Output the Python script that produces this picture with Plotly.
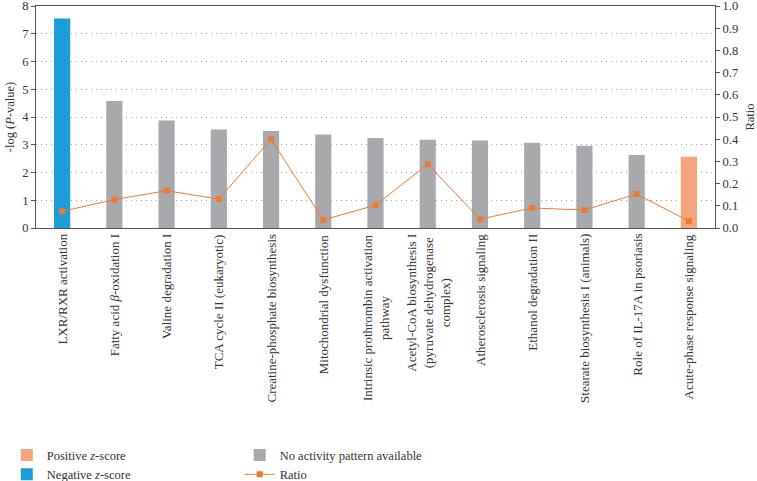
import plotly.graph_objects as go

categories = [
    "LXR/RXR activation",
    "Fatty acid <i>β</i>-oxidation I",
    "Valine degradation I",
    "TCA cycle II (eukaryotic)",
    "Creatine-phosphate biosynthesis",
    "Mitochondrial dysfunction",
    "Intrinsic prothrombin activation<br>pathway",
    "Acetyl-CoA biosynthesis I<br>(pyruvate dehydrogenase<br>complex)",
    "Atherosclerosis signaling",
    "Ethanol degradation II",
    "Stearate biosynthesis I (animals)",
    "Role of IL-17A in psoriasis",
    "Acute-phase response signaling",
]
neg_log_p = [7.55, 4.58, 3.87, 3.55, 3.50, 3.37, 3.24, 3.18, 3.15, 3.07, 2.96, 2.63, 2.57]
ratio = [0.075, 0.128, 0.168, 0.130, 0.400, 0.036, 0.103, 0.287, 0.040, 0.090, 0.081, 0.153, 0.031]
pattern = ["neg", "none", "none", "none", "none", "none", "none", "none", "none", "none", "none", "none", "pos"]

left_ticks = [0, 1, 2, 3, 4, 5, 6, 7, 8]
right_ticks = [0.0, 0.1, 0.2, 0.3, 0.4, 0.5, 0.6, 0.7, 0.8, 0.9, 1.0]

C_POS = "#F5A47C"
C_NEG = "#1B9DD8"
C_NONE = "#A8A9AD"
C_RATIO = "#EE7A30"

FONT = "Liberation Serif"
TXT = "#333333"


def subset(key):
    xs = [c for c, p in zip(categories, pattern) if p == key]
    ys = [v for v, p in zip(neg_log_p, pattern) if p == key]
    return xs, ys


fig = go.Figure()
for key, name, col, leg in [
    ("pos", "Positive <i>z</i>-score", C_POS, "legend"),
    ("neg", "Negative <i>z</i>-score", C_NEG, "legend"),
    ("none", "No activity pattern available", C_NONE, "legend2"),
]:
    xs, ys = subset(key)
    fig.add_trace(go.Bar(x=xs, y=ys, name=name, marker=dict(color=col, line=dict(width=0)),
                         width=0.31, yaxis="y", legend=leg))

fig.add_trace(go.Scatter(x=categories, y=ratio, name="Ratio", mode="lines+markers",
                         line=dict(color=C_RATIO, width=1),
                         marker=dict(symbol="square", size=6, color=C_RATIO),
                         yaxis="y2", legend="legend2"))

# category labels: rotated, with centred multi-line wrapping
for c in categories:
    fig.add_annotation(x=c, xref="x", y=0, yref="paper", text=c, textangle=-90,
                       xanchor="center", yanchor="top", align="center", showarrow=False,
                       yshift=-4, font=dict(family=FONT, size=13, color=TXT))

axis_col = "#555555"
leg_common = dict(orientation="v", yanchor="top", xanchor="left", traceorder="normal",
                  font=dict(family=FONT, size=12.5, color=TXT), tracegroupgap=0,
                  bgcolor="rgba(0,0,0,0)")
fig.update_layout(
    width=757, height=481,
    margin=dict(l=36, r=42, t=6, b=253, autoexpand=False),
    paper_bgcolor="white", plot_bgcolor="white",
    barmode="overlay",
    font=dict(family=FONT, size=12.5, color=TXT),
    xaxis=dict(type="category", categoryorder="array", categoryarray=categories,
               showticklabels=False, showline=True, linecolor=axis_col, linewidth=1,
               mirror=True, ticks="", range=[-0.5, 12.5], automargin=False),
    yaxis=dict(range=[0, 8], tickvals=left_ticks, showline=True, linecolor=axis_col,
               linewidth=1, ticks="outside", ticklen=4, tickcolor=axis_col,
               showgrid=True, gridcolor="#a0a0a0", griddash="1px,4px", gridwidth=1,
               zeroline=False, automargin=False, ticklabeloverflow="allow",
               title=dict(text="-log (<i>P</i>-value)", standoff=4,
                          font=dict(family=FONT, size=12.5, color=TXT)),
               tickfont=dict(family=FONT, size=12.5, color=TXT)),
    yaxis2=dict(range=[0, 1.0], tickvals=right_ticks, tickformat=".1f", overlaying="y",
                side="right", showline=True, linecolor=axis_col, linewidth=1,
                ticks="outside", ticklen=4, tickcolor=axis_col, showgrid=False,
                zeroline=False, automargin=False, ticklabeloverflow="allow",
                title=dict(text="Ratio", standoff=10,
                           font=dict(family=FONT, size=12.5, color=TXT)),
                tickfont=dict(family=FONT, size=12.5, color=TXT)),
    legend=dict(x=-0.043, y=-0.957, **leg_common),
    legend2=dict(x=0.300, y=-0.957, **leg_common),
    showlegend=True,
)

fig.write_html("out.html", config={"displayModeBar": False},
               post_script="document.body.style.margin='0px';")
